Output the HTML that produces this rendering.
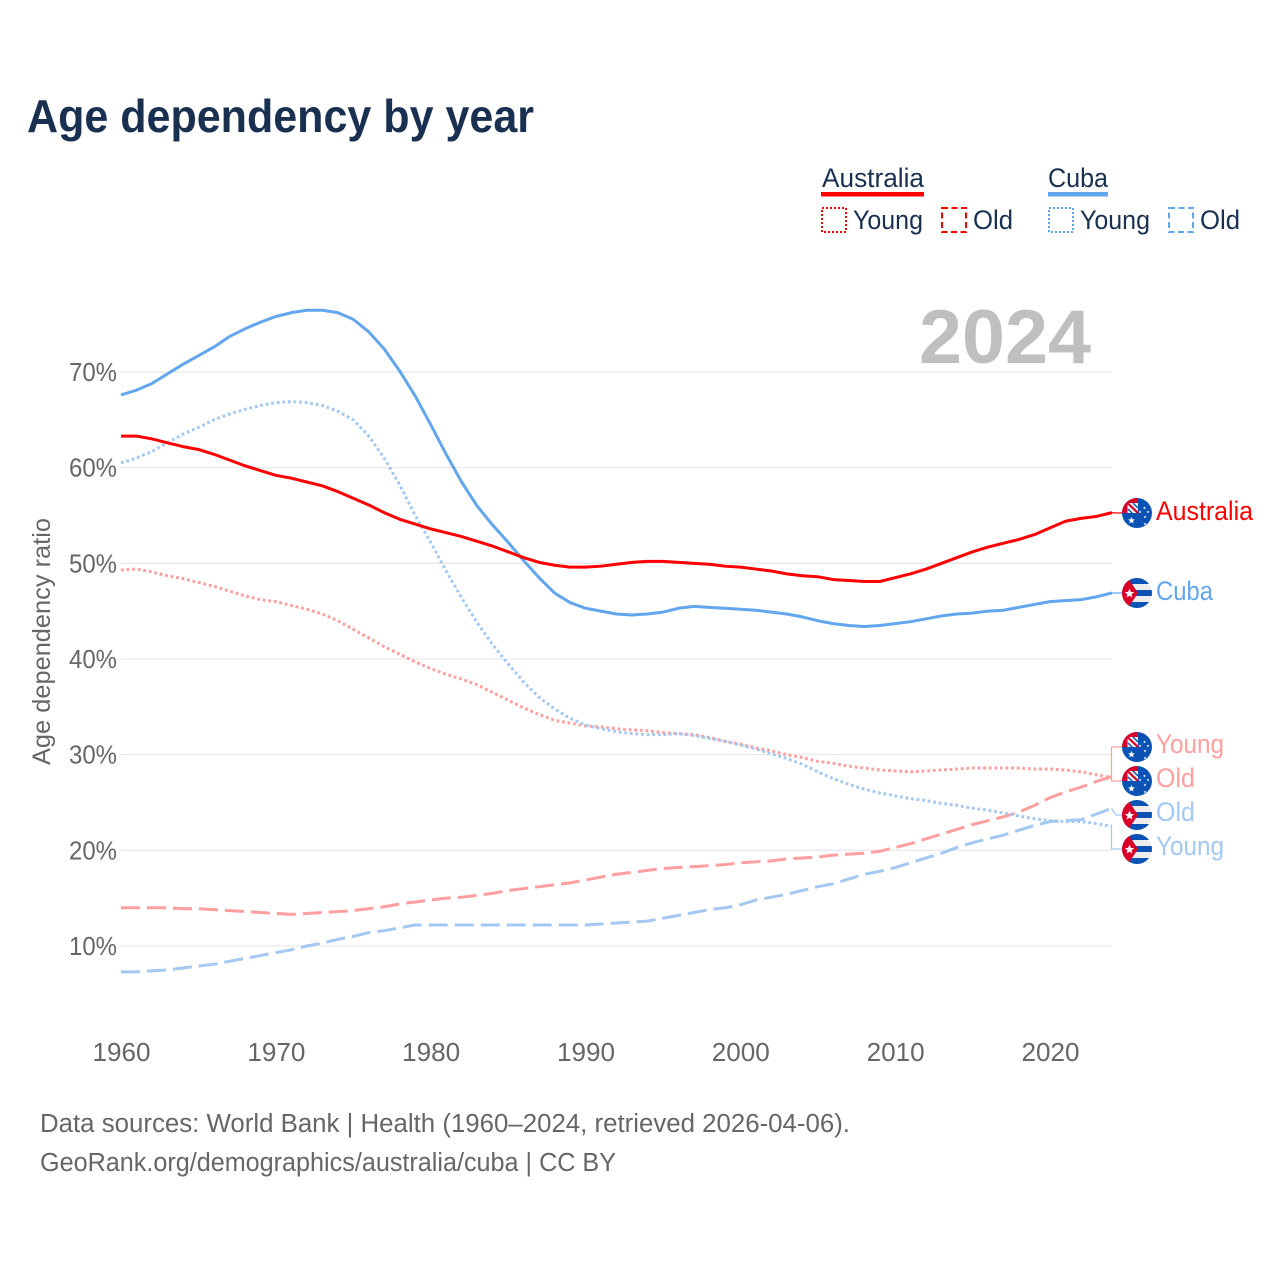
<!DOCTYPE html>
<html lang="en">
<head>
<meta charset="utf-8">
<title>Age dependency by year</title>
<style>
html,body{margin:0;padding:0;background:#fff;}
svg{display:block;}
text{font-family:"Liberation Sans",sans-serif;}
</style>
</head>
<body>
<svg id="chart" xmlns="http://www.w3.org/2000/svg" width="1280" height="1280" viewBox="0 0 1280 1280">
<defs>
<clipPath id="flag-clip"><circle cx="0" cy="0" r="15"/></clipPath>
<polygon id="star" points="0,-1 0.29,-0.31 0.95,-0.31 0.42,0.16 0.59,0.81 0,0.45 -0.59,0.81 -0.42,0.16 -0.95,-0.31 -0.29,-0.31"/>
<g id="flag-au">
<g clip-path="url(#flag-clip)">
<rect x="-15" y="-15" width="30" height="30" fill="#0a52b4"/>
<rect x="-15" y="-15" width="16" height="15" fill="#d80027"/>
<rect x="-9.5" y="-10" width="10.5" height="10" fill="#f0f0f0"/>
<path d="M-9.5,-10L1,0" stroke="#d80027" stroke-width="2.2"/>
<path d="M-9,-4L-3,2M-4,-10L1,-5" stroke="#0a52b4" stroke-width="1.4"/>
<use href="#star" transform="translate(-5.5,7.5) scale(3.6)" fill="#fff"/>
<use href="#star" transform="translate(3,-1) scale(1.5)" fill="#fff"/>
<use href="#star" transform="translate(7.5,-5) scale(1.5)" fill="#fff"/>
<use href="#star" transform="translate(11,-1) scale(1.5)" fill="#fff"/>
<use href="#star" transform="translate(8,4) scale(1.5)" fill="#fff"/>
<use href="#star" transform="translate(8,11) scale(1.5)" fill="#fff"/>
</g></g>
<g id="flag-cu">
<g clip-path="url(#flag-clip)">
<rect x="-15" y="-15" width="30" height="30" fill="#ececec"/>
<rect x="-15" y="-15" width="30" height="6" fill="#0a52b4"/>
<rect x="-15" y="-3" width="30" height="6" fill="#0a52b4"/>
<rect x="-15" y="9" width="30" height="6" fill="#0a52b4"/>
<path d="M-15,-15H-9L1,0L-9,15H-15Z" fill="#d80027"/>
<use href="#star" transform="translate(-7.5,0.5) scale(5)" fill="#fff"/>
</g></g>
</defs>

<text x="27" y="132" font-size="46" font-weight="700" fill="#1a3050" textLength="507" lengthAdjust="spacingAndGlyphs">Age dependency by year</text>

<g fill="#1a3050" font-size="27">
<text x="822" y="187" textLength="102" lengthAdjust="spacingAndGlyphs">Australia</text>
<rect x="821" y="192" width="103" height="4.5" fill="#ff0000"/>
<rect x="822" y="208" width="24" height="24" fill="none" stroke="#ff0000" stroke-width="2" stroke-dasharray="2 2"/>
<text x="853" y="229" textLength="70" lengthAdjust="spacingAndGlyphs">Young</text>
<rect x="942" y="208" width="24" height="24" fill="none" stroke="#ff0000" stroke-width="2" stroke-dasharray="6 3.5"/>
<text x="973" y="229" textLength="40" lengthAdjust="spacingAndGlyphs">Old</text>
<text x="1048" y="187" textLength="60" lengthAdjust="spacingAndGlyphs">Cuba</text>
<rect x="1048" y="192" width="60" height="4.5" fill="#62a6ee"/>
<rect x="1049" y="208" width="24" height="24" fill="none" stroke="#62a6ee" stroke-width="2" stroke-dasharray="2 2"/>
<text x="1080" y="229" textLength="70" lengthAdjust="spacingAndGlyphs">Young</text>
<rect x="1169" y="208" width="24" height="24" fill="none" stroke="#62a6ee" stroke-width="2" stroke-dasharray="6 3.5"/>
<text x="1200" y="229" textLength="40" lengthAdjust="spacingAndGlyphs">Old</text>
</g>

<g id="grid"></g>
<g id="yticks"></g>
<g id="xticks"></g>

<text x="919" y="363" font-size="76" font-weight="700" fill="#bfbfbf" textLength="172" lengthAdjust="spacingAndGlyphs">2024</text>

<text transform="translate(50,765) rotate(-90)" x="0" y="0" font-size="25" fill="#666666" textLength="247" lengthAdjust="spacingAndGlyphs">Age dependency ratio</text>

<g id="series"></g>
<g id="leaders"></g>

<g font-size="26.5">
<use href="#flag-au" x="1137" y="513"/>
<text x="1156" y="520" fill="#ff0000" textLength="97" lengthAdjust="spacingAndGlyphs">Australia</text>
<use href="#flag-cu" x="1137" y="593"/>
<text x="1156" y="600" fill="#62a6ee" textLength="57" lengthAdjust="spacingAndGlyphs">Cuba</text>
<use href="#flag-au" x="1137" y="747"/>
<text x="1156" y="753" fill="#ff9f9f" textLength="68" lengthAdjust="spacingAndGlyphs">Young</text>
<use href="#flag-au" x="1137" y="781"/>
<text x="1156" y="787" fill="#ff9f9f" textLength="39" lengthAdjust="spacingAndGlyphs">Old</text>
<use href="#flag-cu" x="1137" y="815"/>
<text x="1156" y="821" fill="#a3c8f2" textLength="39" lengthAdjust="spacingAndGlyphs">Old</text>
<use href="#flag-cu" x="1137" y="849"/>
<text x="1156" y="855" fill="#a3c8f2" textLength="68" lengthAdjust="spacingAndGlyphs">Young</text>
</g>

<g font-size="25.5" fill="#666666">
<text x="40" y="1132" textLength="810" lengthAdjust="spacingAndGlyphs">Data sources: World Bank | Health (1960–2024, retrieved 2026-04-06).</text>
<text x="40" y="1171" textLength="576" lengthAdjust="spacingAndGlyphs">GeoRank.org/demographics/australia/cuba | CC BY</text>
</g>
</svg>
<script>
const startYear = 1960;
const yTickValues = [10, 20, 30, 40, 50, 60, 70];
const xTickYears = [1960, 1970, 1980, 1990, 2000, 2010, 2020];
const australiaTotal = [63.3,63.3,63.0,62.6,62.2,61.9,61.4,60.8,60.2,59.7,59.2,58.9,58.5,58.1,57.5,56.8,56.1,55.3,54.6,54.1,53.6,53.2,52.8,52.3,51.8,51.2,50.6,50.1,49.8,49.6,49.6,49.7,49.9,50.1,50.2,50.2,50.1,50.0,49.9,49.7,49.6,49.4,49.2,48.9,48.7,48.6,48.3,48.2,48.1,48.1,48.5,48.9,49.4,50.0,50.6,51.2,51.7,52.1,52.5,53.0,53.7,54.4,54.7,54.9,55.3];
const australiaYoung = [49.3,49.4,49.1,48.7,48.4,48.0,47.6,47.1,46.6,46.2,46.0,45.6,45.2,44.7,44.0,43.1,42.2,41.3,40.5,39.7,39.0,38.4,37.9,37.3,36.5,35.7,34.9,34.2,33.6,33.3,33.0,32.9,32.7,32.6,32.5,32.3,32.2,32.1,31.8,31.4,31.1,30.7,30.4,30.0,29.7,29.3,29.1,28.8,28.6,28.4,28.3,28.2,28.3,28.4,28.5,28.6,28.6,28.6,28.6,28.5,28.5,28.4,28.2,27.9,27.6];
const australiaOld = [14.0,14.0,14.0,14.0,13.9,13.9,13.8,13.7,13.6,13.5,13.4,13.3,13.4,13.5,13.6,13.7,13.9,14.1,14.4,14.6,14.8,15.0,15.1,15.3,15.5,15.8,16.0,16.2,16.4,16.6,16.9,17.2,17.5,17.7,17.9,18.1,18.2,18.3,18.4,18.5,18.7,18.8,18.9,19.1,19.2,19.3,19.5,19.6,19.7,19.9,20.3,20.7,21.2,21.7,22.2,22.7,23.1,23.5,24.0,24.7,25.5,26.1,26.6,27.2,27.7];
const cubaTotal = [67.6,68.1,68.8,69.8,70.8,71.7,72.6,73.7,74.5,75.2,75.8,76.2,76.45,76.45,76.2,75.5,74.2,72.4,70.1,67.5,64.5,61.4,58.5,56.0,54.0,52.2,50.3,48.5,46.9,45.9,45.3,45.0,44.7,44.6,44.7,44.9,45.3,45.5,45.4,45.3,45.2,45.1,44.9,44.7,44.4,44.0,43.7,43.5,43.4,43.5,43.7,43.9,44.2,44.5,44.7,44.8,45.0,45.1,45.4,45.7,46.0,46.1,46.2,46.5,46.9];
const cubaYoung = [60.5,61.0,61.7,62.6,63.5,64.2,65.0,65.6,66.1,66.5,66.8,66.9,66.8,66.5,65.9,65.0,63.3,61.0,58.2,55.0,52.2,49.2,46.4,43.8,41.5,39.5,37.6,36.0,34.8,33.8,33.1,32.7,32.4,32.2,32.1,32.1,32.2,32.0,31.7,31.4,31.0,30.6,30.1,29.6,29.0,28.2,27.5,26.9,26.4,26.0,25.7,25.4,25.2,24.9,24.7,24.4,24.2,23.9,23.6,23.3,23.1,23.0,23.0,22.8,22.5];
const cubaOld = [7.3,7.3,7.4,7.5,7.7,7.9,8.1,8.4,8.7,9.0,9.3,9.6,10.0,10.3,10.7,11.0,11.4,11.6,11.9,12.2,12.2,12.2,12.2,12.2,12.2,12.2,12.2,12.2,12.2,12.2,12.2,12.3,12.4,12.5,12.6,12.9,13.2,13.5,13.8,14.0,14.3,14.8,15.1,15.4,15.8,16.2,16.5,17.0,17.5,17.8,18.2,18.7,19.2,19.7,20.3,20.8,21.2,21.6,22.1,22.6,23.0,23.1,23.2,23.8,24.4];

const NS = 'http://www.w3.org/2000/svg';
function xScale(year) { return 121 + (year - 1960) * 15.483; }
function yScale(value) { return 946 - (value - 10) * 9.567; }
function linePath(values) {
  return values.map(function (v, i) {
    return (i ? 'L' : 'M') + xScale(startYear + i).toFixed(2) + ',' + yScale(v).toFixed(2);
  }).join('');
}

const gridGroup = document.getElementById('grid');
const yTickGroup = document.getElementById('yticks');
yTickValues.forEach(function (v) {
  const line = document.createElementNS(NS, 'line');
  
  
  line.setAttribute('x1', 121);
  line.setAttribute('x2', 1112);
  line.setAttribute('y1', yScale(v));
  line.setAttribute('y2', yScale(v));
  line.setAttribute('stroke', '#e9e9e9');
  line.setAttribute('stroke-width', '1.3');
  gridGroup.appendChild(line);
  const label = document.createElementNS(NS, 'text');
  
  
  label.setAttribute('x', 69);
  label.setAttribute('y', yScale(v) + 9);
  label.setAttribute('font-size', '25.5');
  label.setAttribute('fill', '#666666');
  label.setAttribute('textLength', '48');
  label.setAttribute('lengthAdjust', 'spacingAndGlyphs');
  label.textContent = v + '%';
  yTickGroup.appendChild(label);
});

const xTickGroup = document.getElementById('xticks');
xTickYears.forEach(function (year) {
  const label = document.createElementNS(NS, 'text');
  
  
  label.setAttribute('x', xScale(year) - 28.5);
  label.setAttribute('y', 1061);
  label.setAttribute('font-size', '25.5');
  label.setAttribute('fill', '#666666');
  label.setAttribute('textLength', '58');
  label.setAttribute('lengthAdjust', 'spacingAndGlyphs');
  label.textContent = year;
  xTickGroup.appendChild(label);
});

const seriesGroup = document.getElementById('series');
function addSeries(name, values, color, dash) {
  const path = document.createElementNS(NS, 'path');
  
  
  path.setAttribute('d', linePath(values));
  path.setAttribute('fill', 'none');
  path.setAttribute('stroke', color);
  path.setAttribute('stroke-width', '3');
  path.setAttribute('stroke-linejoin', 'round');
  if (dash) path.setAttribute('stroke-dasharray', dash);
  seriesGroup.appendChild(path);
}
addSeries('line-cuba-old', cubaOld, '#a3c8f2', '19 7');
addSeries('line-australia-old', australiaOld, '#ff9f9f', '19 7');
addSeries('line-australia-young', australiaYoung, '#ff9f9f', '2.8 2.8');
addSeries('line-cuba-young', cubaYoung, '#a3c8f2', '2.8 2.8');
addSeries('line-cuba-total', cubaTotal, '#62a6ee', null);
addSeries('line-australia-total', australiaTotal, '#ff0000', null);

const leaderGroup = document.getElementById('leaders');
function addLeader(name, values, labelY, color, diagonal) {
  const lastY = yScale(values[values.length - 1]);
  const leader = document.createElementNS(NS, 'path');
  
  
  const body = diagonal ? 'L1116,' + labelY : 'V' + labelY;
  leader.setAttribute('d', 'M1111.5,' + lastY.toFixed(2) + body + 'H1122');
  leader.setAttribute('fill', 'none');
  leader.setAttribute('stroke', color);
  leader.setAttribute('stroke-width', '1.2');
  leaderGroup.appendChild(leader);
}
addLeader('leader-australia', australiaTotal, 513, '#ff0000', true);
addLeader('leader-cuba', cubaTotal, 593, '#62a6ee', true);
addLeader('leader-australia-young', australiaYoung, 747, '#ff9f9f', false);
addLeader('leader-australia-old', australiaOld, 781, '#ff9f9f', false);
addLeader('leader-cuba-old', cubaOld, 815, '#a3c8f2', true);
addLeader('leader-cuba-young', cubaYoung, 849, '#a3c8f2', false);
</script>
</body>
</html>
